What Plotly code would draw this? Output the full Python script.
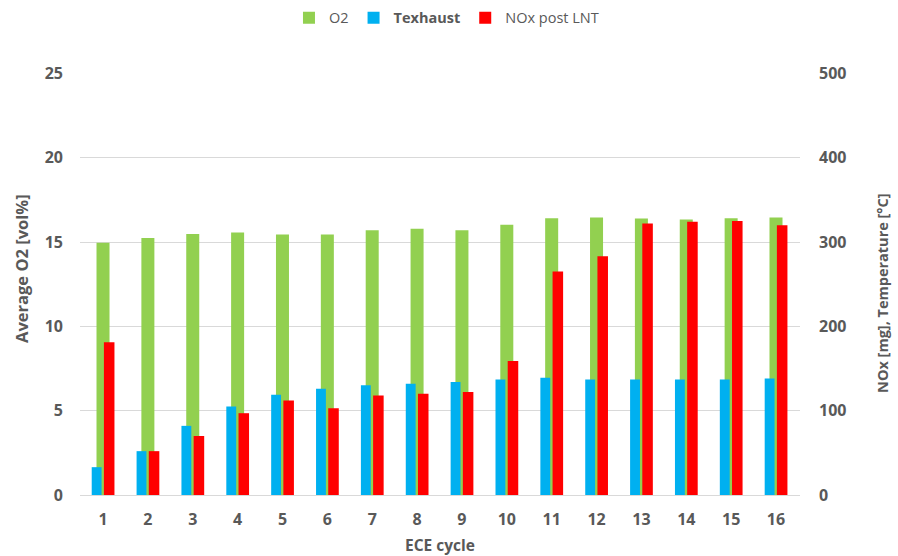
import plotly.graph_objects as go

cycles = list(range(1, 17))
tick_labels = [str(c) for c in cycles]
o2 = [14.95, 15.24, 15.48, 15.56, 15.44, 15.44, 15.70, 15.78, 15.70, 16.03, 16.41, 16.45, 16.39, 16.33, 16.41, 16.45]
texhaust = [33, 52, 82, 105, 119, 126, 130, 132, 134, 137, 139, 137, 137, 137, 137, 138]
nox = [181, 52, 70, 97, 112, 103, 118, 120, 122, 159, 265, 283, 322, 324, 325, 320]

GRAY = "#595959"
FONT = "Open Sans, Segoe UI, sans-serif"

fig = go.Figure()
fig.add_trace(go.Bar(x=cycles, y=o2, name="O2", marker=dict(color="#92d050", line=dict(width=0)),
                     width=0.29, offset=-0.145, yaxis="y"))
fig.add_trace(go.Bar(x=cycles, y=texhaust, name="<b>Texhaust</b>", marker=dict(color="#00b0f0", line=dict(width=0)),
                     width=0.22, offset=-0.252, yaxis="y2"))
fig.add_trace(go.Bar(x=cycles, y=nox, name="NOx post LNT", marker=dict(color="#ff0000", line=dict(width=0)),
                     width=0.235, offset=0.02, yaxis="y2"))

fig.update_layout(
    width=898, height=556,
    margin=dict(l=80, r=98, t=73, b=61, autoexpand=False),
    plot_bgcolor="white", paper_bgcolor="white",
    barmode="overlay",
    font=dict(family=FONT, color=GRAY),
    showlegend=True,
    legend=dict(orientation="h", x=0.509, xanchor="center", yref="container", y=0.968, yanchor="middle",
                font=dict(size=14.5, color=GRAY), traceorder="normal"),
    xaxis=dict(tickmode="array", tickvals=cycles, ticktext=tick_labels, range=[0.487, 16.535],
               showgrid=False, zeroline=False, showline=True, linecolor="#d9d9d9",
               tickfont=dict(size=16, color=GRAY, family=FONT, weight="bold"),
               title=dict(text="<b>ECE cycle</b>", font=dict(size=15.5, color=GRAY), standoff=12), ticks="",
               ticklabelstandoff=10),
    yaxis=dict(range=[0, 25.02], tickvals=[0, 5, 10, 15, 20, 25], showgrid=True, gridcolor="#d9d9d9", zeroline=False,
               tickfont=dict(size=16, color=GRAY, family=FONT, weight="bold"),
               ticklabelstandoff=16),
    yaxis2=dict(range=[0, 500.4], tickvals=[0, 100, 200, 300, 400, 500], overlaying="y", side="right",
                showgrid=False, zeroline=False,
                tickfont=dict(size=16, color=GRAY, family=FONT, weight="bold"),
                ticklabelstandoff=18),
    annotations=[
        dict(text="<b>Average O2 [vol%]</b>", xref="paper", yref="paper", x=-0.0806, y=0.538,
             textangle=-90, showarrow=False, font=dict(size=16.5, color=GRAY), xanchor="center", yanchor="middle"),
        dict(text="<b>NOx [mg], Temperature [°C]</b>", xref="paper", yref="paper", x=1.1153, y=0.479,
             textangle=-90, showarrow=False, font=dict(size=14.5, color=GRAY), xanchor="center", yanchor="middle"),
    ],
)

fig.write_html("out.html", config={"displayModeBar": False},
               post_script="document.body.style.margin='0';")
